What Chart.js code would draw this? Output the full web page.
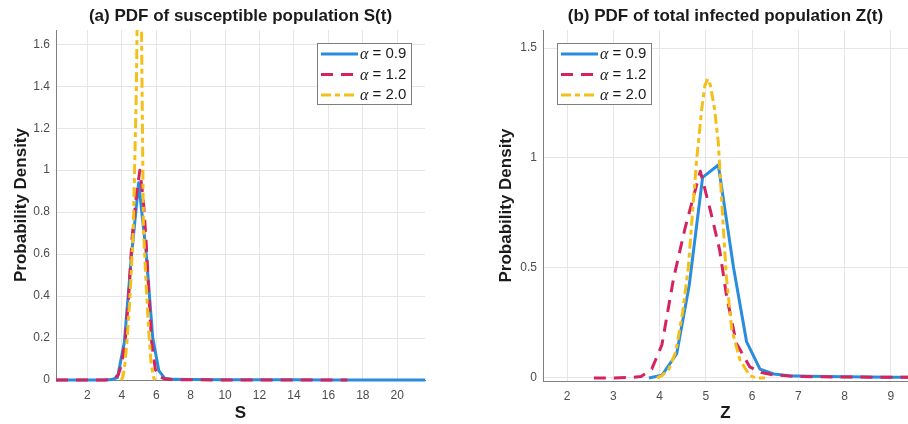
<!DOCTYPE html>
<html>
<head>
<meta charset="utf-8">
<script src="https://cdn.jsdelivr.net/npm/chart.js@4.4.1/dist/chart.umd.min.js"></script>
<style>
  html, body { margin: 0; padding: 0; background: #fff; }
  #wrap { position: relative; width: 908px; height: 424px; }
  canvas { position: absolute; top: 0; }
  #chartS { left: 0; }
  #chartZ { left: 454px; }
</style>
</head>
<body>
<div id="wrap">
  <canvas id="chartS" width="454" height="424"></canvas>
  <canvas id="chartZ" width="454" height="424"></canvas>
</div>
<script>
// fractional order values, one curve each
const alphaLabels = ["0.9", "1.2", "2.0"];

// (a) susceptible population S(t)
const sTicksX = [2, 4, 6, 8, 10, 12, 14, 16, 18, 20];
const sTickLabelsX = ["2", "4", "6", "8", "10", "12", "14", "16", "18", "20"];
const sTicksY = [0, 0.2, 0.4, 0.6, 0.8, 1, 1.2, 1.4, 1.6];
const sTickLabelsY = ["0", "0.2", "0.4", "0.6", "0.8", "1", "1.2", "1.4", "1.6"];

const sBlueX = [0.18, 1, 2, 3, 3.4, 3.75, 4.15, 4.55, 4.98, 5.4, 5.8, 6.15, 6.5, 7, 8, 10, 12, 14, 16, 18, 20, 21.61];
const sBlueY = [0, 0, 0, 0, 0.002, 0.012, 0.18, 0.58, 0.94, 0.62, 0.2, 0.045, 0.008, 0.003, 0.002, 0.001, 0.001, 0.001, 0, 0, 0, 0];

const sRedX = [0.18, 1, 2, 3, 3.3, 3.55, 3.8, 4.0, 4.2, 4.4, 4.6, 4.85, 5.05, 5.25, 5.4, 5.58, 5.72, 5.95, 6.2, 6.5, 7, 8, 10, 12, 14, 17.1];
const sRedY = [0, 0, 0, 0, 0.002, 0.006, 0.025, 0.08, 0.19, 0.4, 0.68, 0.88, 1.0, 0.86, 0.68, 0.4, 0.19, 0.05, 0.015, 0.005, 0.002, 0.001, 0, 0, 0, 0];

const sGoldX = [3.95, 4.05, 4.15, 4.3, 4.48, 4.67, 4.85, 5.05, 5.17, 5.26, 5.4, 5.55, 5.7, 5.85, 5.95];
const sGoldY = [0, 0.01, 0.05, 0.18, 0.4, 0.72, 1.4, 2.8, 1.45, 0.72, 0.48, 0.25, 0.08, 0.01, 0];

// (b) total infected population Z(t)
const zTicksX = [2, 3, 4, 5, 6, 7, 8, 9];
const zTickLabelsX = ["2", "3", "4", "5", "6", "7", "8", "9"];
const zTicksY = [0, 0.5, 1, 1.5];
const zTickLabelsY = ["0", "0.5", "1", "1.5"];

const zBlueX = [3.77, 4.05, 4.37, 4.64, 4.93, 5.27, 5.6, 5.88, 6.17, 6.47, 6.8, 7.2, 7.6, 8.0, 8.5, 9.0, 9.37];
const zBlueY = [0, 0.012, 0.11, 0.42, 0.912, 0.968, 0.5, 0.165, 0.04, 0.018, 0.01, 0.008, 0.006, 0.005, 0.004, 0.003, 0.003];

const zRedX = [2.58, 3.0, 3.4, 3.6, 3.83, 4.05, 4.3, 4.55, 4.88, 5.1, 5.3, 5.45, 5.66, 5.95, 6.2, 6.45, 7.0, 8.0, 9.0, 9.37];
const zRedY = [0, 0, 0.002, 0.006, 0.04, 0.15, 0.45, 0.68, 0.94, 0.76, 0.58, 0.37, 0.158, 0.05, 0.025, 0.014, 0.006, 0.004, 0.003, 0.003];

const zGoldX = [3.94, 4.05, 4.2, 4.35, 4.5, 4.62, 4.8, 4.91, 4.98, 5.04, 5.1, 5.19, 5.27, 5.35, 5.44, 5.56, 5.74, 5.95, 6.1, 6.28];
const zGoldY = [0, 0.01, 0.04, 0.12, 0.3, 0.5, 0.99, 1.22, 1.33, 1.36, 1.33, 1.22, 1.07, 0.78, 0.47, 0.22, 0.08, 0.01, 0, 0];

const BLUE = "#2a8cdd";
const RED = "#d4235f";
const GOLD = "#f5bf1a";
const SANS = '"Liberation Sans", Arial, sans-serif';

Chart.defaults.font.family = SANS;

function series(xs, ys, color, dash, order) {
  return {
    data: xs.map((x, i) => ({ x: x, y: ys[i] })),
    borderColor: color,
    borderWidth: 3,
    borderDash: dash,
    borderJoinStyle: "round",
    pointRadius: 0,
    tension: 0,
    fill: false,
    order: order,
    clip: { left: 0, top: 0, right: 0, bottom: 4 }
  };
}

// title above the axes and a boxed legend in the upper area
const panelDecor = {
  id: "panelDecor",
  afterDraw(chart, args, opts) {
    const ctx = chart.ctx;
    const area = chart.chartArea;
    ctx.save();
    ctx.font = "bold 17px " + SANS;
    ctx.fillStyle = "#1a1a1a";
    ctx.textAlign = "center";
    ctx.textBaseline = "middle";
    ctx.fillText(opts.title, (area.left + area.right) / 2, 16);

    const b = opts.box;
    ctx.fillStyle = "#fff";
    ctx.fillRect(b.x, b.y, b.w, b.h);
    ctx.strokeStyle = "#7f7f7f";
    ctx.lineWidth = 1;
    ctx.strokeRect(b.x + 0.5, b.y + 0.5, b.w, b.h);

    chart.data.datasets.forEach((ds, i) => {
      const y = b.y + 11 + i * 20.5;
      ctx.beginPath();
      ctx.setLineDash(ds.borderDash || []);
      ctx.strokeStyle = ds.borderColor;
      ctx.lineWidth = ds.borderWidth;
      ctx.moveTo(b.x + 4, y);
      ctx.lineTo(b.x + 41, y);
      ctx.stroke();
      ctx.setLineDash([]);
      ctx.textAlign = "left";
      ctx.fillStyle = "#1a1a1a";
      ctx.font = 'italic 16px "Liberation Serif", serif';
      ctx.fillText("\u03b1", b.x + 43, y + 1);
      const w = ctx.measureText("\u03b1").width;
      ctx.font = "15px " + SANS;
      ctx.fillText(" = " + alphaLabels[i], b.x + 43 + w, y);
    });
    ctx.restore();
  }
};

function axis(min, max, ticks, labels, title, fitSize, titlePad, horizontal) {
  return {
    type: "linear",
    min: min,
    max: max,
    afterBuildTicks: (s) => { s.ticks = ticks.map(v => ({ value: v })); },
    afterFit: (s) => { if (horizontal) s.height = fitSize; else s.width = fitSize; },
    ticks: {
      autoSkip: false,
      maxRotation: 0,
      padding: horizontal ? 8 : 6,
      color: "#4d4d4d",
      font: { size: 12 },
      callback: (v, i) => labels[i]
    },
    grid: { color: "#e6e6e6", drawTicks: false },
    border: { display: true, color: "#808080", width: 1 },
    title: {
      display: true,
      text: title,
      color: "#1a1a1a",
      font: { size: 17, weight: "bold" },
      padding: titlePad
    }
  };
}

function makePanel(id, cfg) {
  return new Chart(document.getElementById(id), {
    type: "line",
    data: {
      datasets: [
        series(cfg.blue[0], cfg.blue[1], BLUE, [], 3),
        series(cfg.red[0], cfg.red[1], RED, [12, 8], 2),
        series(cfg.gold[0], cfg.gold[1], GOLD, [10, 4, 5, 4], 1)
      ]
    },
    options: {
      responsive: false,
      animation: false,
      layout: { padding: { top: 30, left: 0, right: cfg.padRight, bottom: 0 } },
      plugins: {
        legend: { display: false },
        tooltip: { enabled: false },
        panelDecor: { title: cfg.title, box: cfg.box }
      },
      scales: {
        x: axis(cfg.xMin, cfg.xMax, cfg.xTicks, cfg.xLabels, cfg.xTitle, cfg.xHeight, { top: 0, bottom: 0 }, true),
        y: axis(cfg.yMin, cfg.yMax, cfg.yTicks, cfg.yLabels, "Probability Density", cfg.yWidth, { top: cfg.yTitlePad, bottom: 0 }, false)
      }
    },
    plugins: [panelDecor]
  });
}

makePanel("chartS", {
  title: "(a) PDF of susceptible population S(t)",
  blue: [sBlueX, sBlueY], red: [sRedX, sRedY], gold: [sGoldX, sGoldY],
  xMin: 0.18, xMax: 21.61, xTicks: sTicksX, xLabels: sTickLabelsX, xTitle: "S",
  yMin: 0, yMax: 1.668, yTicks: sTicksY, yLabels: sTickLabelsY,
  xHeight: 44, yWidth: 56, yTitlePad: 11, padRight: 29,
  box: { x: 317, y: 43, w: 94, h: 61 }
});

makePanel("chartZ", {
  title: "(b) PDF of total infected population Z(t)",
  blue: [zBlueX, zBlueY], red: [zRedX, zRedY], gold: [zGoldX, zGoldY],
  xMin: 1.48, xMax: 9.37, xTicks: zTicksX, xLabels: zTickLabelsX, xTitle: "Z",
  yMin: -0.014, yMax: 1.582, yTicks: zTicksY, yLabels: zTickLabelsY,
  xHeight: 43, yWidth: 89, yTitlePad: 42, padRight: 0,
  box: { x: 103, y: 43, w: 94, h: 61 }
});
</script>
</body>
</html>
